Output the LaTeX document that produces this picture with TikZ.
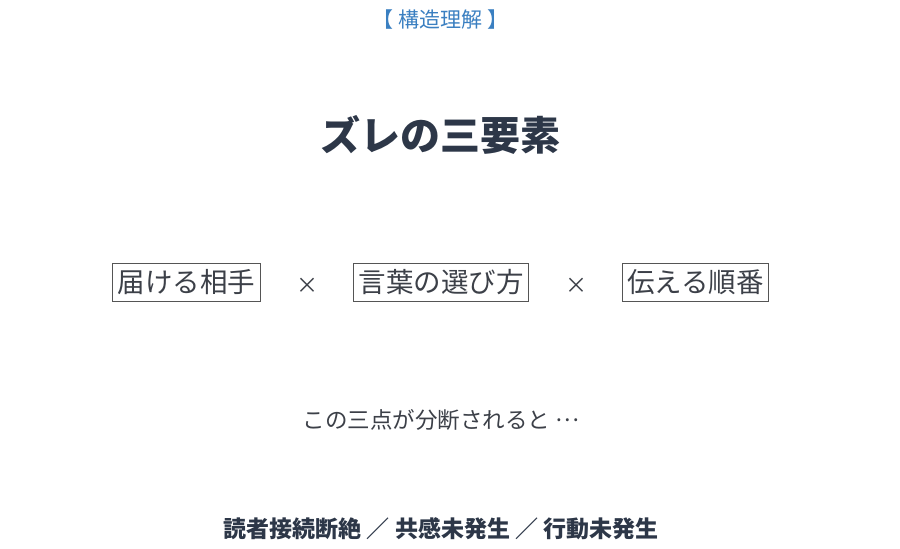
\documentclass[tikz,border=0pt]{standalone}
\usepackage{fontspec}
\setmainfont{Noto Sans CJK JP}
\definecolor{blueh}{HTML}{3A7FC1}
\definecolor{titlec}{HTML}{2D3748}
\definecolor{textc}{HTML}{3C4048}
\definecolor{boxc}{HTML}{555555}
\begin{document}
\begin{tikzpicture}[x=1pt,y=-1pt,
  lbl/.style={inner sep=0pt,anchor=center},
  elembox/.style={draw=boxc,line width=0.9pt,text=textc,inner xsep=5pt,inner ysep=4pt,minimum height=38pt,font=\fontsize{27.5}{31}\selectfont},
  timesc/.style={inner sep=0pt,text=textc,font=\fontsize{22}{26}\selectfont}]
\useasboundingbox[fill=white] (0,0) rectangle (900,549);
\node[lbl,text=blueh,font=\fontsize{21}{25}\selectfont] (hdr) at (440.5,20) {【 構造理解 】};
\node[lbl,text=titlec,font=\bfseries\fontsize{40}{44}\selectfont] (title) at (440.5,135) {ズレの三要素};
\node[elembox] (b1) at (186.5,282) {届ける相手};
\node[elembox] (b2) at (441,282) {言葉の選び方};
\node[elembox] (b3) at (695.5,282) {伝える順番};
\node[timesc] (x1) at (307,286) {×};
\node[timesc] (x2) at (576,286) {×};
\node[lbl,text=textc,font=\fontsize{22.5}{26}\selectfont] (mid) at (441,420) {この三点が分断されると \raisebox{0.3em}{…}};
\node[lbl,text=titlec,font=\bfseries\fontsize{23}{27}\selectfont] (bot) at (441,529) {読者接続断絶 ／ 共感未発生 ／ 行動未発生};
\end{tikzpicture}
\end{document}
